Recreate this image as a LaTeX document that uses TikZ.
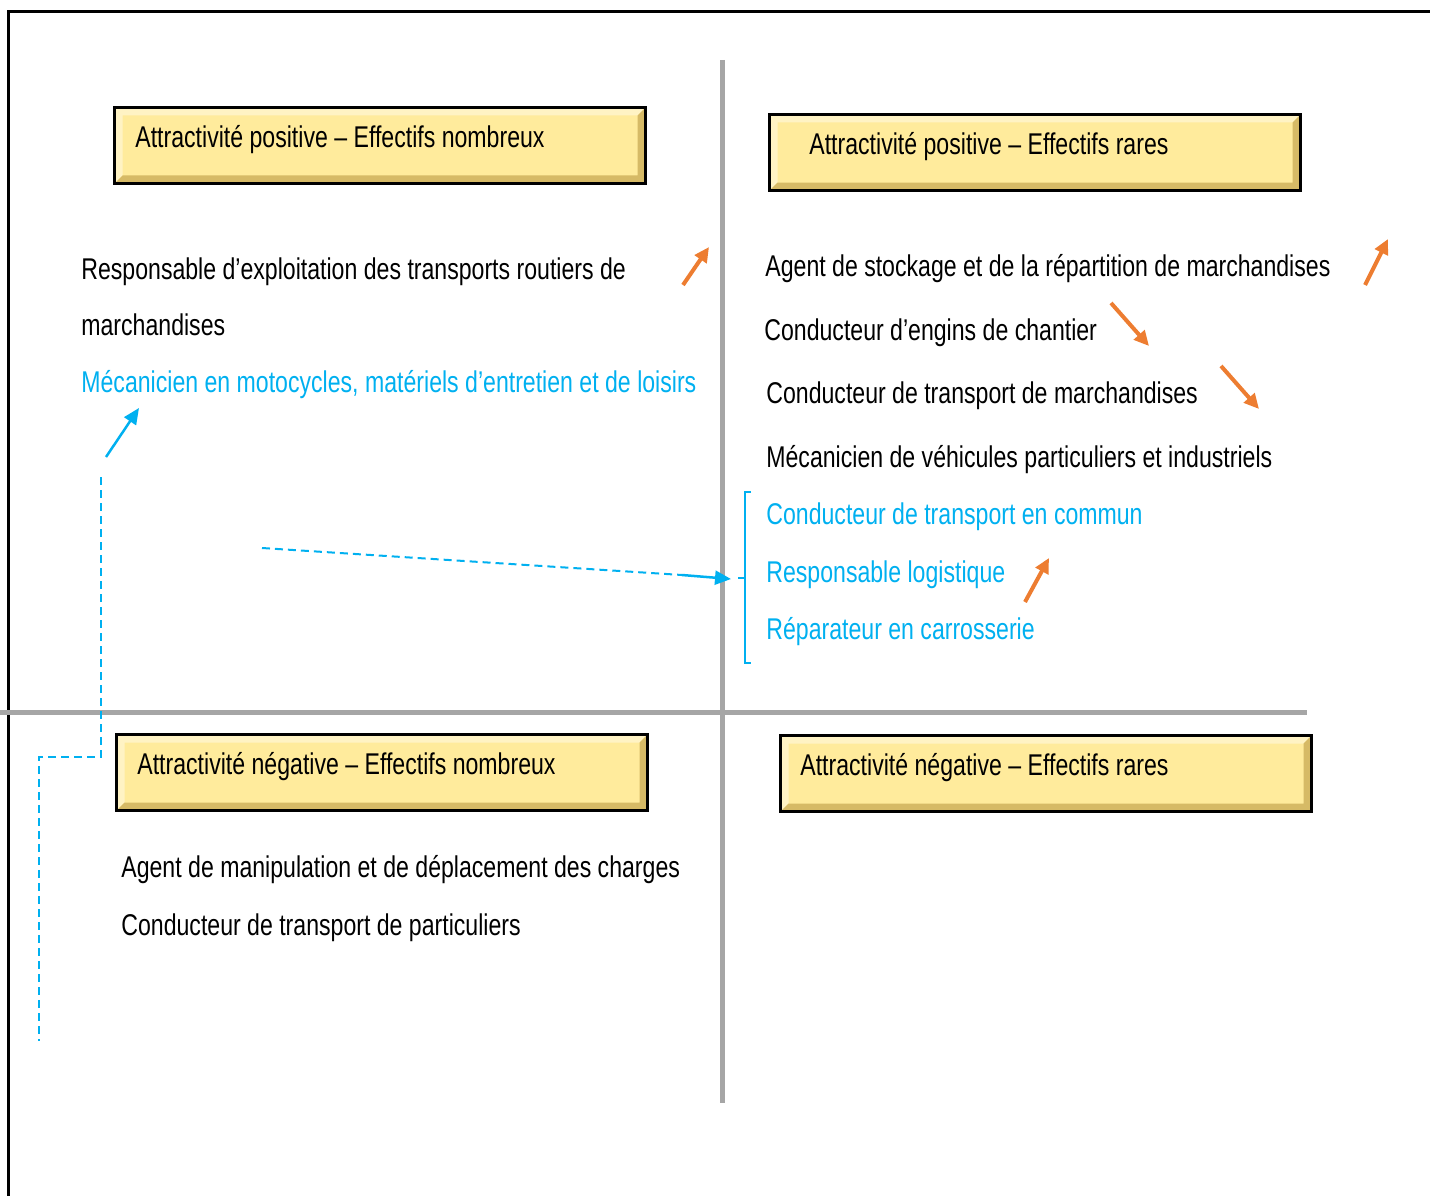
\documentclass[tikz,border=0pt]{standalone}
\usepackage{fontspec}
\setmainfont{Liberation Sans}[FakeStretch=0.77]
\usetikzlibrary{arrows.meta}
\definecolor{hdrfill}{HTML}{FFEB9C}
\definecolor{hdrlight}{HTML}{FFF3C4}
\definecolor{hdrdark}{HTML}{D6BA66}
\definecolor{axisgray}{HTML}{A6A6A6}
\definecolor{jobblue}{HTML}{00B0F0}
\definecolor{trendorange}{HTML}{ED7D31}
\begin{document}
\begin{tikzpicture}[x=1pt, y=-1pt, thick,
	hdr/.style = {draw=black, line width=3pt, fill=hdrfill, anchor=north west,
		minimum height=76pt, minimum width=531pt, inner sep=0pt,
		path picture={
			\fill[hdrlight] (path picture bounding box.south west) -- (path picture bounding box.north west)
				-- (path picture bounding box.north east) -- ([shift={(-8pt,-8pt)}]path picture bounding box.north east)
				-- ([shift={(8pt,-8pt)}]path picture bounding box.north west) -- ([shift={(8pt,8pt)}]path picture bounding box.south west) -- cycle;
			\fill[hdrdark] (path picture bounding box.south west) -- (path picture bounding box.south east)
				-- (path picture bounding box.north east) -- ([shift={(-8pt,-8pt)}]path picture bounding box.north east)
				-- ([shift={(-8pt,8pt)}]path picture bounding box.south east) -- ([shift={(8pt,8pt)}]path picture bounding box.south west) -- cycle;}},
	hdrtxt/.style = {anchor=west, inner sep=0pt, font=\fontsize{30}{36}\selectfont},
	job/.style = {anchor=base west, inner sep=0pt, font=\fontsize{30}{36}\selectfont},
	bluejob/.style = {job, text=jobblue},
	trend/.style = {draw=trendorange, line width=4pt, -{Triangle[length=15pt,width=14pt]}},
	link/.style = {draw=jobblue, line width=2.5pt, -{Triangle[length=16pt,width=14pt]}},
	dashlink/.style = {draw=jobblue, line width=2pt, dash pattern=on 8pt off 5pt}]

	\useasboundingbox (0,0) rectangle (1430,1196);

	% frame and axes
	\draw[line width=3pt] (8,1196) -- (8,12) -- (1430,12);
	\draw[axisgray, line width=5pt] (722,60) -- (722,1103);
	\draw[axisgray, line width=5pt] (0,712) -- (1307,712);

	% quadrant headers
	\node[hdr] (PN) at (113,106) {};
	\node[hdr] (PR) at (768,113) {};
	\node[hdr] (NN) at (115,733) {};
	\node[hdr] (NR) at (779,734) {};
	\node[hdrtxt] (PNt) at ([shift={(22,-6)}]PN.west) {Attractivité positive – Effectifs nombreux};
	\node[hdrtxt] (PRt) at ([shift={(41,-6)}]PR.west) {Attractivité positive – Effectifs rares};
	\node[hdrtxt] (NNt) at ([shift={(22,-6)}]NN.west) {Attractivité négative – Effectifs nombreux};
	\node[hdrtxt] (NRt) at ([shift={(21,-6)}]NR.west) {Attractivité négative – Effectifs rares};

	% positive / nombreux
	\node[job] (resp) at (81,279) {Responsable d’exploitation des transports routiers de};
	\node[job] (resp2) at (81,335) {marchandises};
	\node[bluejob] (meca) at (81,392) {Mécanicien en motocycles, matériels d’entretien et de loisirs};

	% positive / rares
	\node[job] (stock) at (765,276) {Agent de stockage et de la répartition de marchandises};
	\node[job] (engins) at (764,340) {Conducteur d’engins de chantier};
	\node[job] (march) at (766,403) {Conducteur de transport de marchandises};
	\node[job] (vehic) at (766,467) {Mécanicien de véhicules particuliers et industriels};
	\node[bluejob] (commun) at (766,524) {Conducteur de transport en commun};
	\node[bluejob] (logist) at (766,582) {Responsable logistique};
	\node[bluejob] (carros) at (766,639) {Réparateur en carrosserie};

	% negative / nombreux
	\node[job] (manip) at (121,877) {Agent de manipulation et de déplacement des charges};
	\node[job] (partic) at (121,935) {Conducteur de transport de particuliers};

	% trend arrows
	\coordinate (t1a) at (683,285); \coordinate (t1b) at (709,247);
	\coordinate (t2a) at (1365,285); \coordinate (t2b) at (1388,239);
	\coordinate (t3a) at (1111,303); \coordinate (t3b) at (1149,346);
	\coordinate (t4a) at (1221,366); \coordinate (t4b) at (1259,409);
	\coordinate (t5a) at (1025,602); \coordinate (t5b) at (1049,558);
	\draw[trend] (t1a) -- (t1b);
	\draw[trend] (t2a) -- (t2b);
	\draw[trend] (t3a) -- (t3b);
	\draw[trend] (t4a) -- (t4b);
	\draw[trend] (t5a) -- (t5b);

	% bracket round the blue jobs
	\coordinate (brk) at (738,578);
	\draw[jobblue, line width=1.5pt] (751,492) -- (745,492) -- (745,663) -- (751,663);
	\draw[jobblue, line width=1.5pt] (brk) -- (745,578);

	% moves between quadrants
	\coordinate (mvA) at (262,548);
	\coordinate (mvB) at (682,575);
	\coordinate (mvC) at (731,579);
	\draw[dashlink] (mvA) -- (mvB);
	\draw[link] (mvB) -- (mvC);

	\coordinate (upA) at (106,457);
	\coordinate (upB) at (139,408);
	\draw[link] (upA) -- (upB);
	\draw[dashlink] (101,477) -- (101,757) -- (39,757) -- (39,1041);
\end{tikzpicture}
\end{document}
